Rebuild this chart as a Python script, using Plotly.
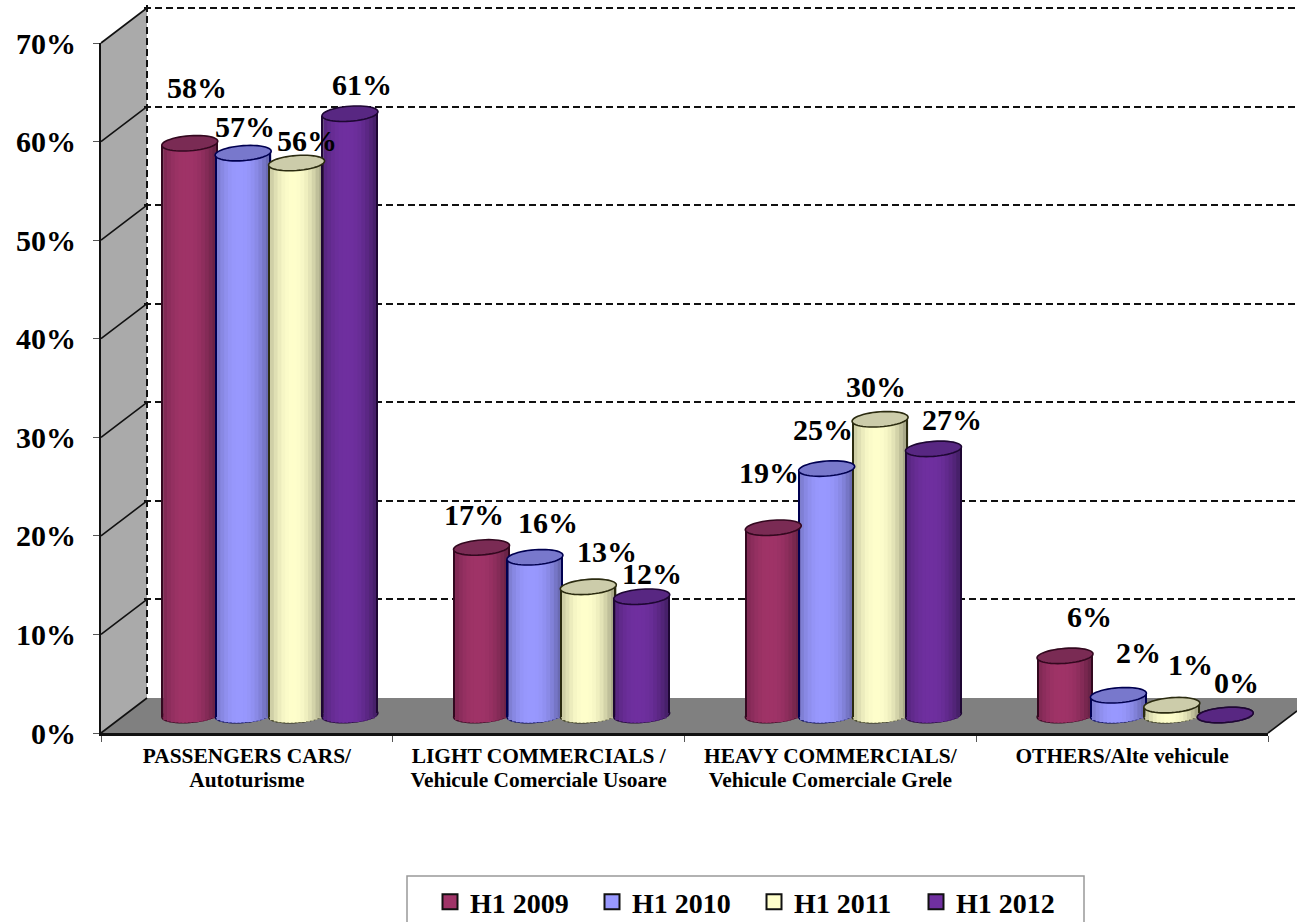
import numpy as np
import plotly.graph_objects as go

# ---------- data ----------
categories = ["PASSENGERS CARS/<br>Autoturisme",
              "LIGHT COMMERCIALS /<br>Vehicule Comerciale Usoare",
              "HEAVY COMMERCIALS/<br>Vehicule Comerciale Grele",
              "OTHERS/Alte vehicule"]
series_names = ["H1 2009", "H1 2010", "H1 2011", "H1 2012"]
h1_2009 = [58, 17, 19, 6]
h1_2010 = [57, 16, 25, 2]
h1_2011 = [56, 13, 30, 1]
h1_2012 = [61, 12, 27, 0]
y_ticks = [0, 10, 20, 30, 40, 50, 60, 70]
values_all = [h1_2009, h1_2010, h1_2011, h1_2012]

# ---------- style ----------
W, H = 1297, 922
FONT = "Liberation Serif"
base_col = ["#a03468", "#9999ff", "#ffffcc", "#7030a0"]
edge_col = ["#6a2347", "#6a6ab2", "#a8a888", "#47206a"]
top_col = ["#7a2b54", "#7878cc", "#ccccaa", "#582782"]
line_col = ["#33081f", "#000050", "#2b2b10", "#1e0733"]
# label offsets in px from the bar top: (dx, dy)
label_dx = [[7, 2, 10, 12], [-8, 13, 19, 10], [-4, -4, -4, 19], [24, 20, 19, 11]]
label_dy = [[56, 27, 22, 29], [33, 35, 35, 23], [55, 39, 33, 29], [39, 43, 41, 33]]

# pixel geometry
FX0, FX1, FY0, FY1 = 101, 1268, 733, 43      # front plane
BX0, BY0, BY1 = 147, 698, 8                  # back plane
BAR_DX, BASE_Y = 23, 715
PX_Y = (FY0 - FY1) / 70
PX_X = (FX1 - FX0) / 4
BAR_W = 56 / PX_X
BAR_STEP = 53.4 / PX_X
ELL_H = 7.5 / PX_Y
TILT = 2.0 / PX_Y
GRID_PAD = 3


def hex2rgb(c):
    return np.array([int(c[i:i + 2], 16) for i in (1, 3, 5)], float)


def mix(a, b, f):
    r = hex2rgb(a) * (1 - f) + hex2rgb(b) * f
    return "rgb(%d,%d,%d)" % tuple(r)


def px(x):
    return x / W


def py(y):
    return 1 - y / H


def ellipse_path(cx, cy):
    """Slightly tilted ellipse, in data units of the bar axes."""
    ang = np.linspace(0, 2 * np.pi, 49)[:-1]
    ex = cx + BAR_W / 2 * np.cos(ang)
    ey = cy + ELL_H * np.sin(ang) + TILT * np.cos(ang)
    return "M" + " L".join(f"{a:.5f},{b:.5f}" for a, b in zip(ex, ey)) + " Z"


fig = go.Figure()
xs = list(range(len(categories)))

# back wall grid carrier and front axes carrier
fig.add_trace(go.Scatter(x=[None], y=[None], xaxis="x", yaxis="y", showlegend=False, hoverinfo="skip"))
fig.add_trace(go.Scatter(x=[None], y=[None], xaxis="x2", yaxis="y2", showlegend=False, hoverinfo="skip"))

# cylinders: vertical strips per series
edge_w = 1.4 / 56
inner = np.linspace(-0.5 + edge_w, 0.5 - edge_w, 15)
shapes = []
for i, vals in enumerate(values_all):
    centre = (i - 1.5) * BAR_STEP
    # inner strips
    for j, (a, b) in enumerate(zip(inner[:-1], inner[1:])):
        t = (a + b)  # -1..1
        s = np.sqrt(max(0, 1 - t * t))
        f = min(1, abs(t + 0.12) ** 2.2)
        w = (b - a) * BAR_W
        fig.add_trace(go.Bar(
            x=xs, y=[v + ELL_H * s for v in vals], base=[-ELL_H * s + TILT * t] * 4,
            offset=centre + a * BAR_W, width=w * (1.5 if j < len(inner) - 2 else 1.0),
            marker=dict(color=mix(base_col[i], edge_col[i], f), line=dict(width=0)),
            xaxis="x3", yaxis="y3", showlegend=False, hoverinfo="skip"))
    # edge outlines
    for a, sgn in ((-0.5, -1), (0.5 - edge_w, 1)):
        fig.add_trace(go.Bar(
            x=xs, y=vals, base=[sgn * TILT] * 4,
            offset=centre + a * BAR_W, width=edge_w * BAR_W,
            marker=dict(color=line_col[i], line=dict(width=0)),
            xaxis="x3", yaxis="y3", showlegend=False, hoverinfo="skip"))
    for k, v in enumerate(vals):
        cx = k + centre
        # base ellipse (outline only peeks out under the strips)
        shapes.append(dict(type="path", xref="x3", yref="y3", layer="between",
                           path=ellipse_path(cx, 0),
                           fillcolor=edge_col[i], line=dict(color=line_col[i], width=1.4)))
        # top ellipse
        shapes.append(dict(type="path", xref="x3", yref="y3", layer="above",
                           path=ellipse_path(cx, v),
                           fillcolor=top_col[i], line=dict(color=line_col[i], width=1.6)))

# legend entries
for i, name in enumerate(series_names):
    fig.add_trace(go.Scatter(x=[None], y=[None], mode="markers", name=name, xaxis="x2", yaxis="y2",
                             marker=dict(symbol="square", size=15, color=base_col[i],
                                         line=dict(color="#111111", width=2))))

# walls and floor (decoration in page space)
wall = dict(type="path", xref="paper", yref="paper", layer="below", line=dict(width=0))


def poly(pts):
    return "M" + " L".join(f"{px(x)},{py(y)}" for x, y in pts) + " Z"


deco = [
    dict(wall, path=poly([(FX0, FY1), (BX0, BY1), (BX0, BY0), (FX0, FY0)]), fillcolor="#aaaaaa"),
    dict(wall, path=poly([(FX0, FY0), (BX0, BY0), (W, BY0), (W, 711), (FX1, FY0)]), fillcolor="#808080"),
    dict(type="rect", xref="paper", yref="paper", layer="below", x0=px(407), x1=px(1084),
         y0=py(926), y1=py(876), fillcolor="white", line=dict(color="#999999", width=1.5)),
]
for v in y_ticks:
    yf = FY0 - v * PX_Y
    deco.append(dict(type="line", xref="paper", yref="paper", layer="below",
                     x0=px(FX0), x1=px(BX0), y0=py(yf), y1=py(yf + BY0 - FY0),
                     line=dict(color="#111111", width=1.6)))
deco.append(dict(type="line", xref="paper", yref="paper", layer="below",
                 x0=px(FX1), x1=px(W), y0=py(FY0), y1=py(711), line=dict(color="#111111", width=1.6)))

annos = []
for i, vals in enumerate(values_all):
    centre = (i - 1.5) * BAR_STEP
    for k, v in enumerate(vals):
        annos.append(dict(x=k + centre, y=v, xref="x3", yref="y3", text=f"<b>{v}%</b>",
                          showarrow=False, xshift=label_dx[k][i], yshift=label_dy[k][i],
                          font=dict(family=FONT, size=30, color="black")))

SPAN = '<span style="font-size:21.4px">'
tick_text = ["<br>".join(f"<b>{SPAN}{part}</span></b>" for part in c.split("<br>")) for c in categories]

fr_dom_x = [px(FX0), px(FX1)]
fr_dom_y = [py(FY0), py(FY1)]
back_w = W - BX0
back_scale = (BY0 - BY1) / 70
fig.update_layout(
    width=W, height=H, autosize=False,
    margin=dict(l=0, r=0, t=0, b=0, autoexpand=False),
    paper_bgcolor="white", plot_bgcolor="rgba(0,0,0,0)",
    barmode="overlay", shapes=deco + shapes, annotations=annos,
    font=dict(family=FONT, color="black"),
    # back wall
    xaxis=dict(domain=[px(BX0 - GRID_PAD), 1], range=[-GRID_PAD / back_w, 1], tickvals=[0], ticktext=[""],
               showgrid=True, griddash="7px,4px", gridcolor="#111111", gridwidth=1.6, showline=False,
               zeroline=False, ticks="", anchor="y", fixedrange=True),
    yaxis=dict(domain=[py(BY0), py(BY1 - GRID_PAD)], range=[0, 70 + GRID_PAD / back_scale], tickvals=y_ticks,
               ticktext=[""] * 8, showgrid=True, griddash="7px,4px", gridcolor="#111111", gridwidth=1.6,
               showline=False, zeroline=False, ticks="", anchor="x", fixedrange=True),
    # front axes
    xaxis2=dict(domain=fr_dom_x, range=[-0.5, 3.5], tickmode="array", tickvals=xs,
                ticktext=tick_text, ticklabelstandoff=4,
                tickfont=dict(family=FONT, size=19, color="black"), ticks="", showline=True,
                linecolor="#111111", linewidth=2.5, showgrid=False, zeroline=False, anchor="y2",
                minor=dict(tickmode="array", tickvals=[-0.5, 0.5, 1.5, 2.5, 3.5], ticks="outside",
                           ticklen=6, tickcolor="#555555", showgrid=False),
                fixedrange=True),
    yaxis2=dict(domain=fr_dom_y, range=[0, 70], tickvals=y_ticks,
                ticktext=[f"<b>{v}%</b>" for v in y_ticks],
                tickfont=dict(family=FONT, size=30, color="black"), ticks="outside", ticklen=6,
                tickcolor="#555555", ticklabelstandoff=11, showline=True, linecolor="#111111",
                linewidth=2, showgrid=False, zeroline=False, anchor="x2", fixedrange=True),
    # bars
    xaxis3=dict(domain=[px(FX0 + BAR_DX), px(FX1 + BAR_DX)], range=[-0.5, 3.5], visible=False,
                anchor="y3", fixedrange=True),
    yaxis3=dict(domain=fr_dom_y, range=[-(FY0 - BASE_Y) / PX_Y, 70 - (FY0 - BASE_Y) / PX_Y],
                visible=False, anchor="x3", fixedrange=True),
    legend=dict(orientation="h", x=px(430), y=py(902), xanchor="left", yanchor="middle",
                bgcolor="rgba(0,0,0,0)", borderwidth=0,
                entrywidth=117, entrywidthmode="pixels",
                font=dict(family=FONT, size=28, weight="bold", color="black")),
)

fig.write_html("out.html", post_script="document.body.style.margin='0';", config={"displayModeBar": False})
